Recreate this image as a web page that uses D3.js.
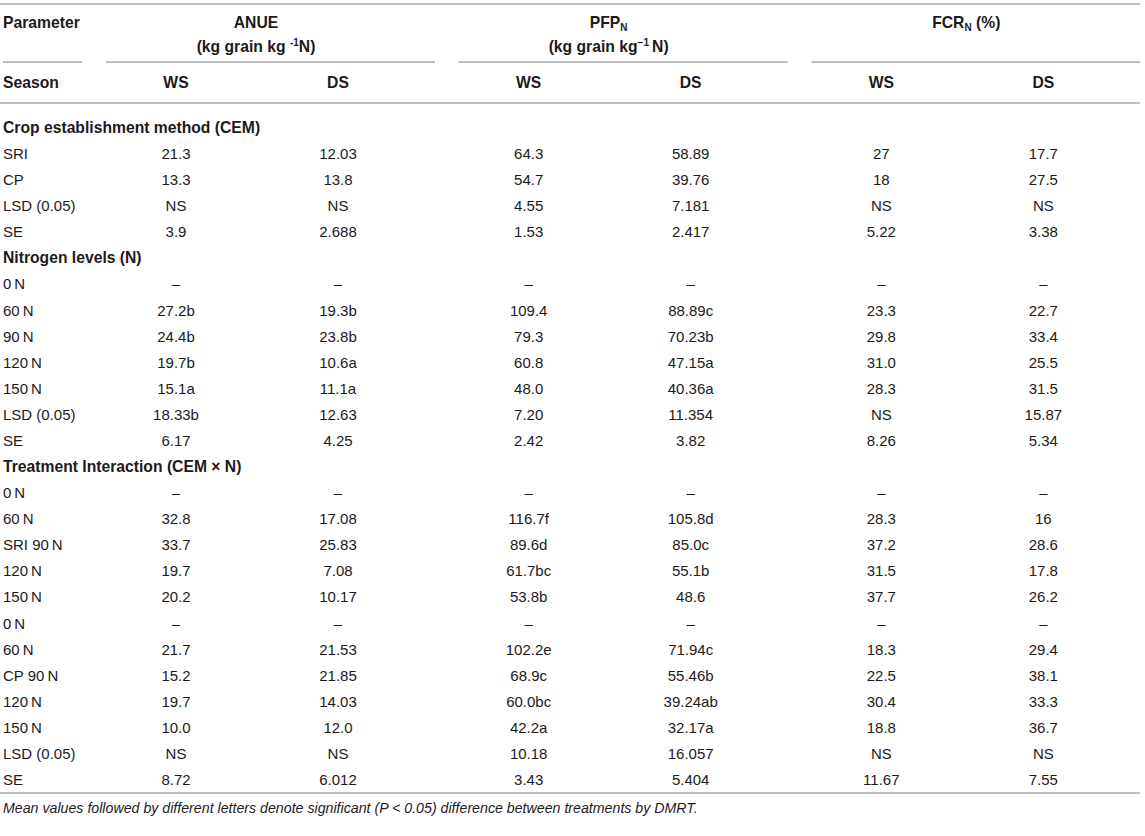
<!DOCTYPE html>
<html>
<head>
<meta charset="utf-8">
<script src="https://cdn.jsdelivr.net/npm/d3@7"></script>
<style>
    body { margin: 0; background: #fff; }
    svg { font-family: "Liberation Sans", Arial, sans-serif; }
</style>
</head>
<body>
<svg id="table" width="1145" height="836"></svg>
<script>
const groups = ["ANUE", "PFP", "FCR"]
const seasons = ["WS", "DS"]

const rowLabels = [
    "Crop establishment method (CEM)", "SRI", "CP", "LSD (0.05)", "SE",
    "Nitrogen levels (N)", "0\u2009N", "60\u2009N", "90\u2009N", "120\u2009N", "150\u2009N", "LSD (0.05)", "SE",
    "Treatment Interaction (CEM \u00d7 N)", "0\u2009N", "60\u2009N", "SRI 90\u2009N", "120\u2009N", "150\u2009N",
    "0\u2009N", "60\u2009N", "CP 90\u2009N", "120\u2009N", "150\u2009N", "LSD (0.05)", "SE"
]
const headingRows = [0, 5, 13]

const anueWS = ["", "21.3", "13.3", "NS", "3.9", "", "\u2013", "27.2b", "24.4b", "19.7b", "15.1a", "18.33b", "6.17",
    "", "\u2013", "32.8", "33.7", "19.7", "20.2", "\u2013", "21.7", "15.2", "19.7", "10.0", "NS", "8.72"]
const anueDS = ["", "12.03", "13.8", "NS", "2.688", "", "\u2013", "19.3b", "23.8b", "10.6a", "11.1a", "12.63", "4.25",
    "", "\u2013", "17.08", "25.83", "7.08", "10.17", "\u2013", "21.53", "21.85", "14.03", "12.0", "NS", "6.012"]
const pfpWS = ["", "64.3", "54.7", "4.55", "1.53", "", "\u2013", "109.4", "79.3", "60.8", "48.0", "7.20", "2.42",
    "", "\u2013", "116.7f", "89.6d", "61.7bc", "53.8b", "\u2013", "102.2e", "68.9c", "60.0bc", "42.2a", "10.18", "3.43"]
const pfpDS = ["", "58.89", "39.76", "7.181", "2.417", "", "\u2013", "88.89c", "70.23b", "47.15a", "40.36a", "11.354", "3.82",
    "", "\u2013", "105.8d", "85.0c", "55.1b", "48.6", "\u2013", "71.94c", "55.46b", "39.24ab", "32.17a", "16.057", "5.404"]
const fcrWS = ["", "27", "18", "NS", "5.22", "", "\u2013", "23.3", "29.8", "31.0", "28.3", "NS", "8.26",
    "", "\u2013", "28.3", "37.2", "31.5", "37.7", "\u2013", "18.3", "22.5", "30.4", "18.8", "NS", "11.67"]
const fcrDS = ["", "17.7", "27.5", "NS", "3.38", "", "\u2013", "22.7", "33.4", "25.5", "31.5", "15.87", "5.34",
    "", "\u2013", "16", "28.6", "17.8", "26.2", "\u2013", "29.4", "38.1", "33.3", "36.7", "NS", "7.55"]

const footnote = "Mean values followed by different letters denote significant (P < 0.05) difference between treatments by DMRT."

const columns = [
    {group: "ANUE", season: "WS", values: anueWS},
    {group: "ANUE", season: "DS", values: anueDS},
    {group: "PFP", season: "WS", values: pfpWS},
    {group: "PFP", season: "DS", values: pfpDS},
    {group: "FCR", season: "WS", values: fcrWS},
    {group: "FCR", season: "DS", values: fcrDS},
]

const svg = d3.select("#table")
const fontSize = 15
const boldSize = 15.7
const ruleColor = "#a9a9a9"
const textColor = "#1d1a1b"

// group bands and the two season columns inside each band
const gx = d3.scaleBand().domain(groups).range([94, 1152])
const sx = d3.scalePoint().domain(seasons).range([82, 244])
const colX = c => gx(c.group) + sx(c.season)

const y = d3.scalePoint().domain(d3.range(rowLabels.length)).range([128, 780])

// horizontal rules
const rule = (x1, x2, yy) => svg.append("line")
    .attr("x1", x1).attr("x2", x2).attr("y1", yy).attr("y2", yy)
    .attr("stroke", ruleColor).attr("stroke-width", 1.5)

rule(0, 1140, 4)
rule(3, 82, 62)
groups.forEach(g => rule(gx(g) + 12, gx(g) + 341, 62))
rule(0, 1140, 103)
rule(0, 1140, 793)

// header
const head = svg.append("g").attr("fill", textColor).attr("font-weight", "bold").attr("font-size", boldSize)

head.append("text").attr("x", 3).attr("y", 28).text("Parameter")
head.append("text").attr("x", 3).attr("y", 88).text("Season")

const hc = g => gx(g) + 162

head.append("text").attr("x", hc("ANUE")).attr("y", 28).attr("text-anchor", "middle").text("ANUE")
let t = head.append("text").attr("x", hc("ANUE")).attr("y", 52).attr("text-anchor", "middle")
t.append("tspan").text("(kg grain kg ")
t.append("tspan").attr("font-size", 10).attr("dy", -6).text("-1")
t.append("tspan").attr("dy", 6).text("N)")

t = head.append("text").attr("x", hc("PFP")).attr("y", 28).attr("text-anchor", "middle")
t.append("tspan").text("PFP")
t.append("tspan").attr("font-size", 10).attr("dy", 3).text("N")
t = head.append("text").attr("x", hc("PFP")).attr("y", 52).attr("text-anchor", "middle")
t.append("tspan").text("(kg grain kg")
t.append("tspan").attr("font-size", 10).attr("dy", -6).text("\u22121")
t.append("tspan").attr("dy", 6).text("\u2009N)")

t = head.append("text").attr("x", hc("FCR") + 5).attr("y", 28).attr("text-anchor", "middle")
t.append("tspan").text("FCR")
t.append("tspan").attr("font-size", 10).attr("dy", 3).text("N")
t.append("tspan").attr("dy", -3).text(" (%)")

head.selectAll("text.season")
    .data(columns)
    .join("text")
    .attr("class", "season")
    .attr("x", colX)
    .attr("y", 88)
    .attr("text-anchor", "middle")
    .text(c => c.season)

// body
const body = svg.append("g").attr("fill", textColor).attr("font-size", fontSize)

body.selectAll("text.label")
    .data(rowLabels)
    .join("text")
    .attr("class", "label")
    .attr("x", 3)
    .attr("y", (d, i) => y(i) + 5)
    .attr("font-weight", (d, i) => headingRows.includes(i) ? "bold" : null)
    .attr("font-size", (d, i) => headingRows.includes(i) ? boldSize : null)
    .text(d => d)

columns.forEach(c => {
    body.append("g").selectAll("text")
        .data(c.values)
        .join("text")
        .attr("x", colX(c))
        .attr("y", (d, i) => y(i) + 5)
        .attr("text-anchor", "middle")
        .text(d => d)
})

svg.append("text")
    .attr("x", 3)
    .attr("y", 813)
    .attr("font-size", 14.2)
    .attr("font-style", "italic")
    .attr("fill", textColor)
    .text(footnote)
</script>
</body>
</html>
